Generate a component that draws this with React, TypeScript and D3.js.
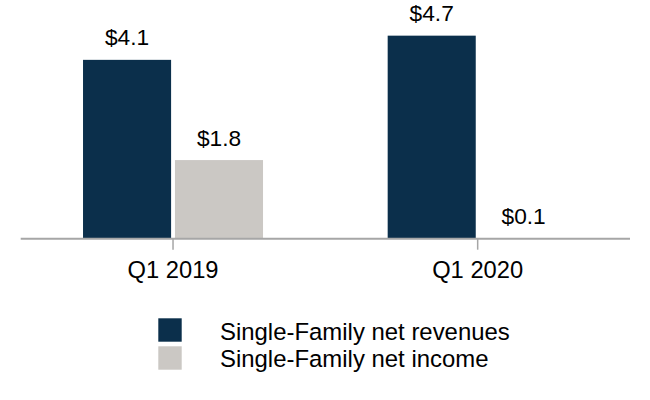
import React from "react";
import * as d3 from "d3";

const categories = ["Q1 2019", "Q1 2020"];
const seriesNames = ["Single-Family net revenues", "Single-Family net income"];
const revenueValues = [4.14, 4.7];
const incomeValues = [1.82, 0.01];
const revenueLabels = ["$4.1", "$4.7"];
const incomeLabels = ["$1.8", "$0.1"];

const colors = ["#0b2f4b", "#cbc8c4"];
const W = 650;
const H = 400;
const FONT = "'Liberation Sans', Arial, sans-serif";
const SX = 1.01;

export default function App() {
  const x0 = d3.scaleBand<string>().domain(categories).range([20.7, 630]).padding(0);
  const x1 = d3
    .scaleBand<string>()
    .domain(seriesNames)
    .range([-90, 90])
    .paddingInner(0.042)
    .paddingOuter(0);
  const y = d3.scaleLinear().domain([0, 5]).range([238.7, 238.7 - 5 * 43.2]);

  const series = [
    { name: seriesNames[0], values: revenueValues, labels: revenueLabels, color: colors[0] },
    { name: seriesNames[1], values: incomeValues, labels: incomeLabels, color: colors[1] },
  ];

  const txt = (x: number, yy: number, s: string, size: number, anchor: string, key?: string) => (
    <text
      key={key}
      transform={`translate(${x},${yy}) scale(${SX},1)`}
      fontSize={size}
      fontFamily={FONT}
      textAnchor={anchor}
      fill="#000"
    >
      {s}
    </text>
  );

  return (
    <svg
      width={W}
      height={H}
      style={{ position: "absolute", left: 0, top: 0, background: "#fff" }}
    >
      {series.map((s) =>
        categories.map((c, i) => {
          const cx = (x0(c) as number) + x0.bandwidth() / 2;
          const bx = cx + (x1(s.name) as number);
          return (
            <rect
              key={s.name + c}
              x={bx}
              y={y(s.values[i])}
              width={x1.bandwidth()}
              height={y(0) - y(s.values[i])}
              fill={s.color}
            />
          );
        })
      )}
      {series.map((s) =>
        categories.map((c, i) => {
          const cx = (x0(c) as number) + x0.bandwidth() / 2;
          const bx = cx + (x1(s.name) as number) + x1.bandwidth() / 2;
          return txt(bx, y(s.values[i]) - 14.5, s.labels[i], 22.5, "middle", "l" + s.name + c);
        })
      )}
      <line x1={20.7} x2={630} y1={y(0)} y2={y(0)} stroke="#a6a6a6" strokeWidth={2} />
      {categories.map((c) => {
        const cx = (x0(c) as number) + x0.bandwidth() / 2;
        return (
          <g key={"t" + c}>
            <line x1={cx} x2={cx} y1={y(0)} y2={y(0) + 11} stroke="#a6a6a6" strokeWidth={1.5} />
            {txt(cx, 277.8, c, 23.5, "middle")}
          </g>
        );
      })}
      {series.map((s, i) => (
        <g key={"lg" + s.name}>
          <rect x={158.3} y={318.3 + i * 28} width={23.4} height={23.4} fill={s.color} />
          {txt(220, 340 + i * 27, s.name, 23.7, "start")}
        </g>
      ))}
    </svg>
  );
}
